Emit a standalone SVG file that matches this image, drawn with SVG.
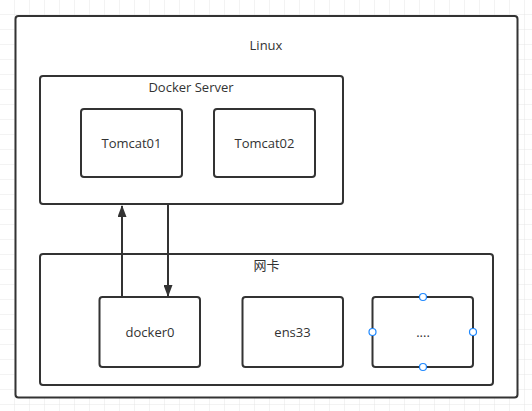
<svg xmlns="http://www.w3.org/2000/svg" width="532" height="411" viewBox="0 0 532 411">
<defs>
<pattern id="grid" width="15" height="15" patternUnits="userSpaceOnUse">
<path d="M15 0V15M0 15H15" fill="none" stroke="#e6e6e6" stroke-width="1"/>
</pattern>
<marker id="arr" viewBox="0 0 12 9" refX="11" refY="4.5" markerWidth="12" markerHeight="9" markerUnits="userSpaceOnUse" orient="auto">
<path d="M0 0L12 4.5L0 9Z" fill="#333"/>
</marker>
<style>
.box{fill:#fff;stroke:#333;stroke-width:2}
.t{font-family:"Segoe UI","Open Sans","Noto Sans CJK SC",sans-serif;font-size:13px;fill:#333;text-anchor:middle}
.h{fill:#fff;stroke:#1e88ff;stroke-width:1.2}
.c{stroke:#333;stroke-width:2;fill:none}
</style>
</defs>
<rect width="532" height="411" fill="#fff"/>
<rect width="532" height="411" fill="url(#grid)"/>
<g id="linux"><rect class="box" x="15.5" y="16" width="502" height="381.5" rx="3"/><text class="t" x="266" y="50">Linux</text></g>
<g id="docker-server"><rect class="box" x="40" y="76" width="303" height="128" rx="3"/><text class="t" x="191" y="92">Docker Server</text></g>
<g id="tomcat01"><rect class="box" x="81" y="109" width="101" height="68" rx="3"/><text class="t" x="131.5" y="148">Tomcat01</text></g>
<g id="tomcat02"><rect class="box" x="214" y="109" width="101" height="68" rx="3"/><text class="t" x="264.5" y="148">Tomcat02</text></g>
<g id="nic"><rect class="box" x="40" y="254" width="453" height="131" rx="3"/><text class="t" x="266.5" y="270">网卡</text></g>
<g id="docker0"><rect class="box" x="99.5" y="297" width="100.5" height="70" rx="3"/><text class="t" x="150" y="337">docker0</text></g>
<g id="ens33"><rect class="box" x="242.5" y="297" width="100.5" height="70" rx="3"/><text class="t" x="292.5" y="337">ens33</text></g>
<g id="more"><rect class="box" x="372.5" y="297" width="100.5" height="70" rx="3"/><text class="t" x="423" y="337">....</text>
<circle class="h" cx="423" cy="297" r="3.5"/><circle class="h" cx="423" cy="367" r="3.5"/><circle class="h" cx="372.5" cy="332" r="3.5"/><circle class="h" cx="473" cy="332" r="3.5"/></g>
<g id="connectors">
<line class="c" x1="122" y1="296" x2="122" y2="206" marker-end="url(#arr)"/>
<line class="c" x1="168" y1="205" x2="168" y2="296" marker-end="url(#arr)"/>
</g>
</svg>
